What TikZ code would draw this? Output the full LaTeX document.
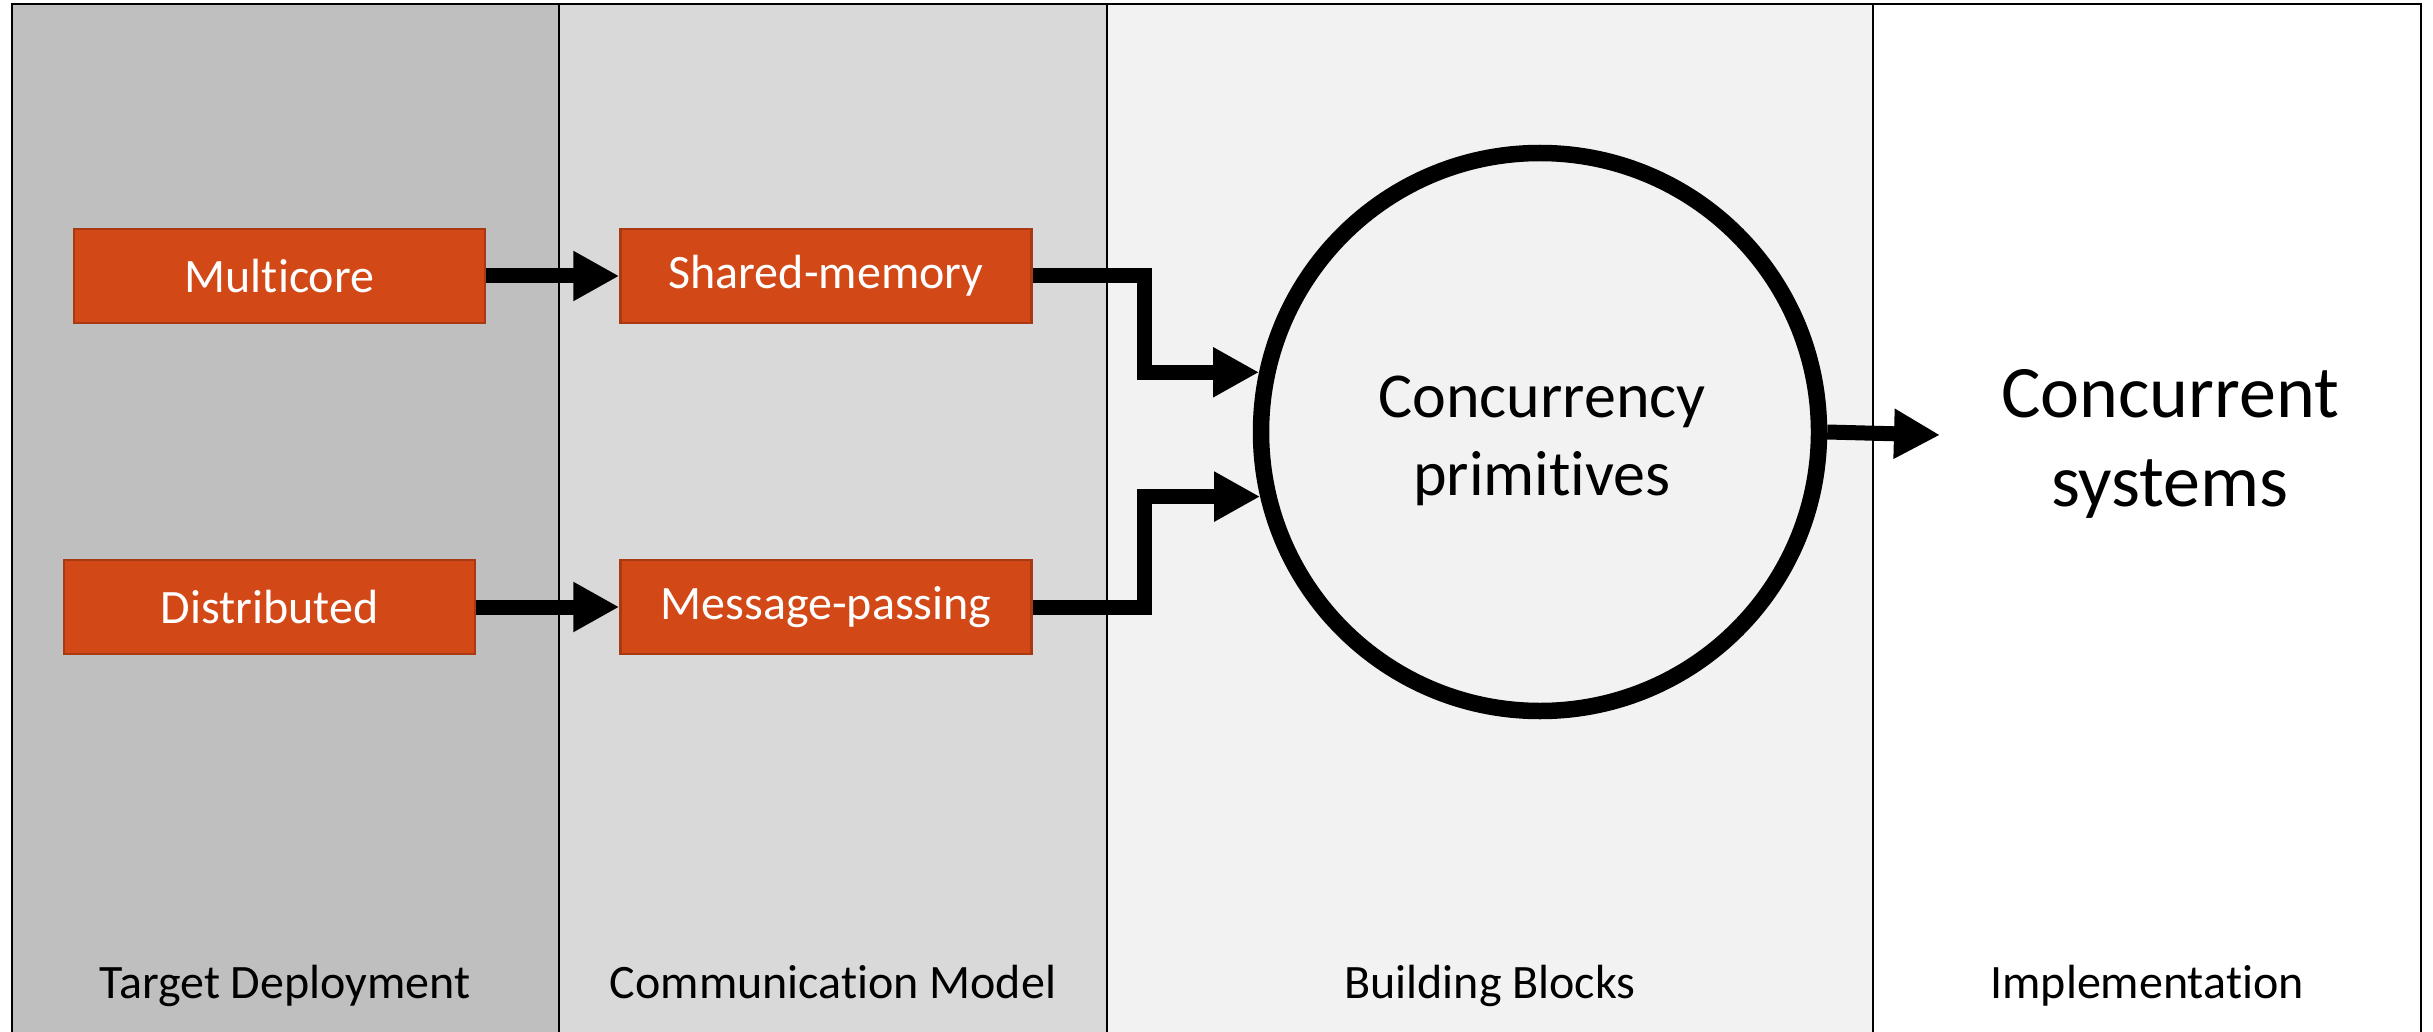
\documentclass[tikz,border=0pt]{standalone}
\usepackage{fontspec}
\setmainfont[Ligatures=NoCommon]{Carlito}
\usetikzlibrary{arrows.meta}
\definecolor{laneA}{HTML}{BFBFBF}
\definecolor{laneB}{HTML}{D9D9D9}
\definecolor{laneC}{HTML}{F2F2F2}
\definecolor{boxfill}{HTML}{D24817}
\definecolor{boxline}{HTML}{A73A12}
\tikzset{
  lane/.style={draw=black, line width=2pt},
  stage/.style={draw=boxline, line width=2.5pt, fill=boxfill, text=white,
    minimum width=411pt, minimum height=94pt, inner sep=0pt,
    font=\fontsize{48}{58}\selectfont},
  flow/.style={line width=15pt, -{Triangle[length=46pt,width=47pt]}},
  lanelabel/.style={anchor=base, font=\fontsize{48}{58}\selectfont},
}
\begin{document}
\begin{tikzpicture}[x=1pt, y=-1pt]
\useasboundingbox (0,0) rectangle (2433,1032);
\clip (0,0) rectangle (2433,1032);
\fill[white] (0,0) rectangle (2433,1032);
% swim lanes
\filldraw[lane, fill=laneA] (12,4.5) rectangle (559,1045);
\filldraw[lane, fill=laneB] (559,4.5) rectangle (1107,1045);
\filldraw[lane, fill=laneC] (1107,4.5) rectangle (1873,1045);
\filldraw[lane, fill=white] (1873,4.5) rectangle (2421,1045);
% lane titles
\node[lanelabel] (l1) at (285,998) {Target Deployment};
\node[lanelabel] (l2) at (833,998) {Communication Model};
\node[lanelabel] (l3) at (1490,998) {Building Blocks};
\node[lanelabel] (l4) at (2147,998) {Implementation};
% stages
\node[stage] (mc) at (279.5,276) {Multicore};
\node[stage] (sm) at (826,276) {Shared-memory};
\node[stage] (ds) at (269.5,607) {Distributed};
\node[stage] (mp) at (826,607) {Message-passing};
\node[circle, draw=black, line width=16.5pt, minimum size=558pt, inner sep=0pt] (circ) at (1540,432) {};
\node[align=center, font=\fontsize{64}{78}\selectfont] (ct) at (1542,441) {Concurrency\\primitives};
\node[align=center, font=\fontsize{74}{89}\selectfont] (cs) at (2170,444) {Concurrent\\systems};
\coordinate (out) at (1940,435);
% connectors
\draw[flow] (mc) -- (sm);
\draw[flow] (ds) -- (mp);
\draw[flow] (sm.east) -- ++(112,0) |- (circ.168);
\draw[flow] (mp.east) -- ++(112,0) |- (circ.193.5);
\draw[flow] (circ.east) -- (out);
\end{tikzpicture}
\end{document}
